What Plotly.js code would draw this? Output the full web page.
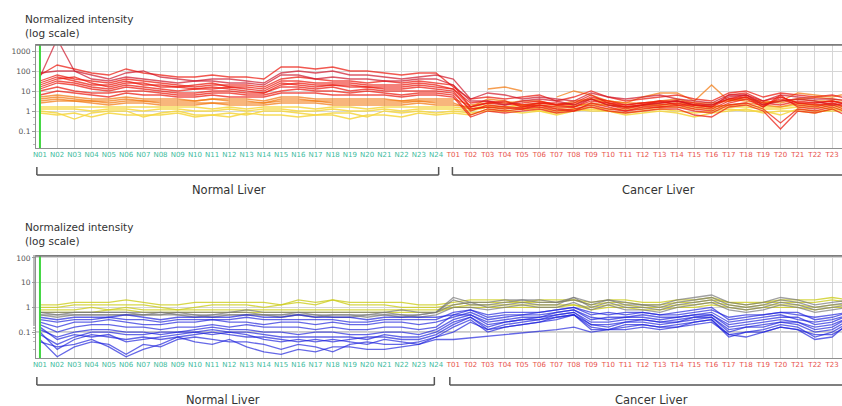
<!DOCTYPE html>
<html>
<head>
<meta charset="utf-8">
<script src="https://cdn.plot.ly/plotly-3.0.1.min.js"></script>
<style>
html,body{margin:0;padding:0;overflow:hidden;background:#fff;}
#chart{width:870px;height:406px;}
</style>
</head>
<body>
<div id="chart"></div>
<script>
// ---- categories (samples) ----
const samplesNormal = ["N01","N02","N03","N04","N05","N06","N07","N08","N09","N10","N11","N12","N13","N14","N15","N16","N17","N18","N19","N20","N21","N22","N23","N24"];
const samplesCancer = ["T01","T02","T03","T04","T05","T06","T07","T08","T09","T10","T11","T12","T13","T14","T15","T16","T17","T18","T19","T20","T21","T22","T23","T24"];
const categories = samplesNormal.concat(samplesCancer);
const yTickVals1 = [0.1, 1, 10, 100, 1000];
const yTickText1 = ["0.1", "1", "10", "100", "1000"];
const yTickVals2 = [0.1, 1, 10, 100];
const yTickText2 = ["0.1", "1", "10", "100"];
const groupLabels = ["Normal Liver", "Cancer Liver"];
const axisTitle = "Normalized intensity<br>(log scale)";

// ---- top panel: log10 normalized intensity, N01..N24 then T01..T24 ----
const topRed1 = [1.8,2.3,2.1,1.9,1.8,2.1,1.9,1.8,1.7,1.7,1.8,1.7,1.7,1.6,2.2,2.2,2.1,2.2,2.0,2.0,1.9,1.8,1.9,1.9, 1.2,0.6,0.7,0.6,0.7,0.8,0.5,0.7,1.0,0.7,0.5,0.6,0.7,0.8,0.6,0.5,0.9,1.0,0.7,0.9,0.8,0.7,0.8,0.6];
const topRed2 = [1.5,1.8,1.6,1.5,1.4,1.6,1.5,1.4,1.3,1.2,1.3,1.3,1.3,1.2,1.6,1.7,1.6,1.5,1.5,1.4,1.5,1.4,1.5,1.4, 1.3,0.2,0.4,0.3,0.4,0.5,0.3,0.4,0.8,0.4,0.3,0.4,0.5,0.5,0.3,0.2,0.8,0.9,0.5,0.7,0.4,0.4,0.5,0.3];
const topRed3 = [1.2,1.5,1.4,1.2,1.1,1.3,1.2,1.1,1.0,1.1,1.2,1.1,1.0,0.9,1.3,1.4,1.3,1.3,1.2,1.2,1.1,1.1,1.2,1.1, 1.0,0.0,0.3,0.2,0.1,0.3,0.2,0.2,0.6,0.3,0.1,0.3,0.3,0.4,0.2,0.1,0.5,0.7,0.3,0.6,0.3,0.2,0.4,0.1];
const topRed4 = [1.0,1.2,1.0,0.9,0.9,1.0,1.0,0.9,0.8,0.8,0.9,0.9,0.8,0.8,1.0,1.1,1.0,1.0,0.9,1.0,0.9,0.8,0.9,0.9, 0.8,-0.2,0.1,0.0,0.1,0.2,0.0,0.1,0.3,0.1,0.0,0.1,0.2,0.2,0.0,-0.1,0.3,0.4,0.1,-0.6,0.1,0.0,0.2,-0.1];
const topRed5 = [1.9,2.0,2.0,1.8,1.6,1.9,2.0,1.7,1.6,1.5,1.6,1.6,1.5,1.4,1.9,2.0,1.9,2.0,1.8,1.8,1.7,1.6,1.7,1.8, 1.6,0.6,0.9,0.8,0.6,0.7,0.6,0.5,0.9,0.7,0.6,0.7,0.8,0.6,0.5,0.4,0.8,0.8,0.5,0.8,0.7,0.6,0.6,0.5];
const topRed6 = [1.4,1.7,1.5,1.3,1.3,1.5,1.3,1.3,1.2,1.3,1.4,1.2,1.2,1.1,1.5,1.5,1.4,1.4,1.4,1.3,1.3,1.3,1.4,1.3, 1.1,0.4,0.5,0.4,0.3,0.4,0.4,0.3,0.7,0.5,0.3,0.4,0.4,0.5,0.4,0.3,0.6,0.8,0.4,0.3,0.5,0.4,0.5,0.3];
const topRed7 = [1.7,3.6,2.0,1.6,1.5,1.7,1.6,1.5,1.4,1.5,1.5,1.4,1.4,1.3,1.8,1.8,1.6,1.7,1.6,1.6,1.5,1.5,1.6,1.6, 1.3,0.5,0.5,0.3,0.5,0.6,0.5,0.3,0.6,0.3,0.2,0.3,0.4,0.5,0.3,0.3,0.7,0.8,0.3,0.5,0.6,0.5,0.3,0.4];
const topRed8 = [1.1,1.4,1.3,1.1,1.0,1.2,1.1,1.0,0.9,0.9,1.0,1.0,0.9,0.9,1.2,1.2,1.1,1.2,1.0,1.1,1.0,1.0,1.0,1.0, 0.9,0.1,0.2,0.1,0.2,0.3,0.1,0.0,0.4,0.2,0.0,0.2,0.2,0.3,0.1,0.0,0.4,0.6,0.2,0.8,0.2,0.1,0.3,0.0];
const topRed9 = [1.3,1.6,1.7,1.4,1.2,1.4,1.4,1.2,1.2,1.1,1.1,1.2,1.1,1.0,1.4,1.3,1.2,1.3,1.3,1.2,1.2,1.2,1.3,1.2, 1.1,0.2,0.4,0.5,0.2,0.4,0.3,0.2,0.5,0.4,0.2,0.3,0.5,0.3,0.3,0.2,0.6,0.7,0.2,0.7,0.4,0.3,0.4,0.2];
const topRed10 = [0.8,1.0,0.9,0.8,0.7,0.9,0.8,0.8,0.7,0.7,0.8,0.7,0.7,0.7,0.9,0.9,0.9,0.8,0.8,0.8,0.8,0.7,0.8,0.8, 0.7,-0.3,0.0,-0.1,0.0,0.1,-0.1,0.0,0.2,0.0,-0.1,0.0,0.1,0.1,-0.2,-0.3,0.2,0.3,0.0,-0.9,0.0,-0.1,0.1,-0.3];
const topOrange1 = [0.7,0.8,0.7,0.6,0.6,0.7,0.6,0.6,0.6,0.5,0.6,0.6,0.6,0.5,0.7,0.7,0.6,0.6,0.6,0.6,0.6,0.5,0.6,0.6, 0.6,0.3,0.4,0.4,0.5,0.5,0.3,0.4,0.6,0.5,0.4,0.4,0.5,0.6,0.4,0.4,0.5,0.6,0.5,0.4,0.6,0.5,0.5,0.4];
const topOrange2 = [0.5,0.6,0.5,0.5,0.4,0.5,0.5,0.4,0.4,0.4,0.4,0.4,0.4,0.4,0.5,0.5,0.5,0.4,0.4,0.4,0.4,0.4,0.5,0.4, 0.4,0.1,0.2,0.2,0.3,0.2,0.1,0.2,0.4,0.3,0.2,0.2,0.3,0.4,0.3,0.2,0.3,0.4,0.3,0.2,0.4,0.3,0.3,0.2];
const topOrange3 = [0.6,0.7,0.6,0.5,0.5,0.6,0.5,0.5,0.5,0.5,0.6,0.5,0.5,0.4,0.6,0.6,0.5,0.5,0.5,0.5,0.5,0.5,0.5,0.5, 0.5,null,1.1,1.2,1.0,null,0.7,1.0,0.8,0.5,0.4,0.7,0.9,0.9,0.5,1.3,0.5,0.7,0.4,0.5,0.9,0.8,0.7,0.9];
const topOrange4 = [0.4,0.5,0.5,0.4,0.3,0.4,0.4,0.3,0.3,0.3,0.4,0.3,0.3,0.3,0.4,0.4,0.4,0.3,0.3,0.3,0.3,0.3,0.4,0.3, 0.3,0.2,0.6,0.5,0.3,0.4,0.3,0.5,0.6,0.4,0.2,0.3,0.4,0.5,0.3,0.3,0.6,0.5,0.4,0.5,0.6,0.7,0.6,0.5];
const topYellow1 = [0.1,0.1,0.1,0.0,0.1,0.1,0.0,0.1,0.1,0.0,0.0,0.1,0.0,0.1,0.1,0.0,0.0,0.1,0.0,0.0,0.1,0.0,0.1,0.1, 0.1,0.0,0.2,0.1,0.2,0.1,0.0,0.1,0.2,0.1,0.1,0.1,0.2,0.2,0.1,0.1,0.2,0.2,0.1,0.1,0.2,0.2,0.1,0.1];
const topYellow2 = [0.0,-0.1,-0.4,-0.1,0.0,0.0,-0.3,-0.1,0.0,-0.2,-0.2,-0.1,-0.2,0.0,0.0,-0.1,-0.2,-0.1,-0.1,-0.3,0.0,-0.1,0.0,-0.1, 0.0,-0.1,0.0,0.0,0.1,0.0,-0.2,0.0,0.1,0.0,-0.1,0.0,0.1,0.0,-0.1,0.0,0.1,0.0,0.0,-0.2,0.1,0.0,0.0,0.0];
const topYellow3 = [0.2,0.2,0.2,0.2,0.2,0.2,0.2,0.2,0.2,0.2,0.1,0.2,0.1,0.2,0.2,0.2,0.1,0.2,0.2,0.1,0.2,0.2,0.2,0.2, 0.2,0.1,0.3,0.2,0.3,0.3,0.2,0.3,0.3,0.3,0.2,0.3,0.3,0.3,0.2,0.2,0.3,0.3,0.2,0.2,0.3,0.3,0.2,0.2];
const topYellow4 = [-0.1,-0.2,-0.1,-0.3,-0.1,-0.2,-0.2,-0.2,-0.1,-0.3,-0.2,-0.3,-0.1,-0.2,-0.2,-0.3,-0.2,-0.2,-0.4,-0.2,-0.2,-0.3,-0.1,-0.2, -0.1,-0.2,0.1,0.0,-0.1,0.0,-0.1,0.1,0.0,0.0,-0.2,-0.1,0.0,-0.1,-0.3,-0.1,0.0,0.1,-0.1,0.0,0.0,-0.1,0.1,0.0];

// ---- bottom panel: log10 normalized intensity ----
const botBlue1 = [-0.4,-0.5,-0.4,-0.4,-0.4,-0.3,-0.4,-0.5,-0.4,-0.4,-0.4,-0.4,-0.3,-0.4,-0.4,-0.3,-0.4,-0.4,-0.4,-0.5,-0.4,-0.4,-0.4,-0.4, -0.3,-0.1,-0.3,-0.2,-0.2,-0.2,-0.1,0.0,-0.3,-0.2,-0.3,-0.2,-0.3,-0.3,-0.2,-0.1,-0.4,-0.3,-0.3,-0.2,-0.3,-0.4,-0.3,-0.2];
const botBlue2 = [-0.6,-0.8,-0.6,-0.6,-0.5,-0.6,-0.7,-0.7,-0.6,-0.6,-0.5,-0.6,-0.6,-0.7,-0.6,-0.6,-0.7,-0.6,-0.7,-0.7,-0.6,-0.6,-0.7,-0.6, -0.4,-0.2,-0.5,-0.4,-0.3,-0.3,-0.2,-0.1,-0.5,-0.4,-0.4,-0.4,-0.5,-0.4,-0.3,-0.2,-0.6,-0.5,-0.4,-0.3,-0.5,-0.6,-0.5,-0.3];
const botBlue3 = [-0.9,-1.2,-1.0,-0.9,-0.9,-1.0,-1.0,-1.1,-1.0,-0.9,-0.8,-0.9,-0.9,-1.0,-1.0,-1.1,-1.0,-1.0,-1.1,-1.1,-1.0,-1.0,-1.1,-0.9, -0.5,-0.3,-0.7,-0.6,-0.5,-0.4,-0.3,-0.2,-0.6,-0.6,-0.5,-0.5,-0.6,-0.5,-0.4,-0.3,-0.8,-0.7,-0.6,-0.5,-0.6,-0.8,-0.7,-0.4];
const botBlue4 = [-1.0,-1.7,-1.3,-1.1,-1.2,-1.3,-1.2,-1.3,-1.2,-1.1,-1.0,-1.1,-1.2,-1.2,-1.3,-1.4,-1.3,-1.4,-1.3,-1.2,-1.2,-1.3,-1.3,-1.1, -0.7,-0.4,-0.9,-0.7,-0.6,-0.5,-0.4,-0.3,-0.7,-0.7,-0.6,-0.6,-0.7,-0.6,-0.5,-0.4,-1.0,-0.8,-0.7,-0.6,-0.7,-1.0,-0.9,-0.5];
const botBlue5 = [-1.3,-2.0,-1.6,-1.4,-1.5,-1.9,-1.5,-1.6,-1.3,-1.2,-1.3,-1.4,-1.4,-1.5,-1.7,-1.5,-1.6,-1.8,-1.5,-1.4,-1.5,-1.5,-1.4,-1.2, -0.8,-0.5,-1.0,-0.8,-0.7,-0.6,-0.5,-0.3,-0.8,-0.9,-0.7,-0.7,-0.8,-0.7,-0.6,-0.5,-1.2,-1.0,-0.9,-0.7,-0.8,-1.2,-1.0,-0.6];
const botBlue6 = [-0.7,-1.0,-0.8,-0.7,-0.7,-0.8,-0.8,-0.9,-0.8,-0.8,-0.7,-0.8,-0.7,-0.8,-0.8,-0.8,-0.9,-0.8,-0.9,-0.9,-0.8,-0.8,-0.9,-0.8, -0.3,-0.3,-0.6,-0.5,-0.4,-0.4,-0.2,-0.1,-0.4,-0.5,-0.4,-0.3,-0.4,-0.4,-0.3,-0.3,-0.7,-0.6,-0.5,-0.4,-0.4,-0.7,-0.6,-0.3];
const botBlue7 = [-1.1,-1.5,-1.2,-1.0,-1.0,-1.1,-1.1,-1.0,-1.0,-1.0,-0.9,-1.0,-1.0,-1.1,-1.2,-1.2,-1.2,-1.2,-1.2,-1.3,-1.1,-1.2,-1.2,-1.0, -0.6,-0.4,-0.8,-0.6,-0.5,-0.5,-0.3,-0.2,-0.7,-0.8,-0.6,-0.5,-0.6,-0.6,-0.4,-0.4,-0.9,-0.8,-0.8,-0.6,-0.6,-0.9,-0.8,-0.4];
const botBlue8 = [-0.5,-0.6,-0.5,-0.5,-0.4,-0.5,-0.5,-0.6,-0.5,-0.5,-0.5,-0.5,-0.4,-0.5,-0.5,-0.5,-0.5,-0.5,-0.6,-0.6,-0.5,-0.5,-0.5,-0.5, -0.2,-0.1,-0.4,-0.3,-0.3,-0.2,-0.1,0.0,-0.2,-0.3,-0.2,-0.2,-0.3,-0.2,-0.1,0.0,-0.5,-0.4,-0.3,-0.2,-0.2,-0.5,-0.4,-0.2];
const botBlue9 = [-1.4,-1.6,-1.5,-1.3,-1.6,-2.0,-1.7,-1.5,-1.2,-1.4,-1.5,-1.3,-1.6,-1.8,-1.9,-1.7,-1.8,-1.6,-1.6,-1.7,-1.7,-1.6,-1.5,-1.3, -1.3,null,null,null,null,null,-0.9,-0.8,-1.0,-0.9,-0.9,-0.8,-0.9,-0.8,-0.7,-0.6,-1.1,-1.0,-1.0,-0.8,-0.9,-1.1,-1.1,-0.7];
const botBlue10 = [-0.8,-1.3,-1.1,-1.2,-1.1,-1.4,-1.3,-1.2,-1.1,-1.0,-1.1,-1.0,-1.1,-1.3,-1.4,-1.3,-1.4,-1.3,-1.4,-1.5,-1.3,-1.4,-1.5,-1.2, -1.0,-0.6,-0.9,-0.8,-0.7,-0.6,-0.4,-0.3,-0.9,-0.9,-0.8,-0.7,-0.8,-0.8,-0.6,-0.5,-1.1,-1.2,-1.0,-0.8,-0.9,-1.3,-1.2,-0.6];
const botGray1 = [-0.2,-0.3,-0.2,-0.2,-0.2,-0.2,-0.3,-0.3,-0.2,-0.3,-0.3,-0.2,-0.2,-0.3,-0.3,-0.2,-0.3,-0.3,-0.3,-0.3,-0.2,-0.3,-0.3,-0.2, 0.3,0.1,0.1,0.2,0.3,0.2,0.2,0.3,0.1,0.3,0.1,0.1,0.0,0.2,0.3,0.4,0.1,0.0,0.1,0.3,0.2,0.0,0.1,0.2];
const botGray2 = [-0.3,-0.3,-0.3,-0.3,-0.3,-0.3,-0.3,-0.2,-0.3,-0.4,-0.3,-0.3,-0.3,-0.3,-0.4,-0.3,-0.4,-0.3,-0.3,-0.4,-0.3,-0.4,-0.3,-0.2, 0.1,0.2,0.0,0.1,0.2,0.1,0.1,0.4,0.0,0.2,0.0,0.0,-0.1,0.1,0.2,0.3,0.0,-0.1,0.0,0.2,0.1,-0.1,0.0,0.1];
const botGray3 = [-0.2,-0.2,-0.2,-0.2,-0.2,-0.2,-0.2,-0.2,-0.2,-0.2,-0.2,-0.2,-0.1,-0.2,-0.2,-0.2,-0.2,-0.2,-0.2,-0.2,-0.2,-0.1,-0.2,-0.2, 0.4,0.2,0.2,0.3,0.3,0.3,0.2,0.4,0.2,0.3,0.2,0.1,0.1,0.3,0.4,0.5,0.2,0.1,0.2,0.4,0.3,0.1,0.2,0.3];
const botGray4 = [-0.3,-0.4,-0.3,-0.3,-0.3,-0.3,-0.3,-0.3,-0.3,-0.3,-0.4,-0.3,-0.3,-0.3,-0.3,-0.3,-0.3,-0.4,-0.4,-0.3,-0.3,-0.3,-0.4,-0.3, 0.0,0.0,-0.1,0.0,0.1,0.0,0.0,0.2,-0.1,0.1,-0.1,-0.1,-0.2,0.0,0.1,0.2,-0.1,-0.2,-0.1,0.1,0.0,-0.2,-0.1,0.0];
const botYellow1 = [0.0,0.0,0.1,0.1,0.1,0.1,0.1,0.0,-0.1,0.0,0.1,0.1,0.1,0.0,0.1,0.2,0.1,0.3,0.1,0.1,0.1,0.0,0.0,0.0, 0.1,0.2,0.2,0.2,0.2,0.2,0.2,0.3,0.1,0.2,0.2,0.1,0.1,0.2,0.2,0.3,0.2,0.1,0.2,0.2,0.2,0.2,0.3,0.2];
const botYellow2 = [-0.1,-0.1,-0.1,0.0,-0.1,0.0,-0.1,-0.1,-0.1,-0.1,-0.1,-0.1,-0.1,-0.1,-0.1,-0.1,-0.1,-0.1,-0.1,-0.1,-0.1,-0.1,-0.1,-0.1, 0.0,0.1,0.1,0.1,0.1,0.1,0.1,0.1,0.0,0.1,0.1,0.0,0.0,0.1,0.1,0.2,0.1,0.0,0.1,0.1,0.1,0.0,0.1,0.1];
const botYellow3 = [-0.2,-0.2,-0.2,-0.2,-0.1,-0.1,-0.2,-0.2,-0.2,-0.2,-0.2,-0.2,-0.2,-0.2,-0.2,-0.2,-0.2,-0.2,-0.2,-0.2,-0.2,-0.2,-0.2,-0.2, 0.0,0.0,0.0,0.0,0.0,0.0,0.0,0.1,-0.1,0.0,0.0,-0.1,-0.1,0.0,0.0,0.1,0.0,-0.1,0.0,0.0,0.0,-0.1,0.0,0.0];
const botYellow4 = [0.1,0.1,0.2,0.2,0.2,0.3,0.2,0.1,0.1,0.2,0.2,0.2,0.2,0.2,0.1,0.3,0.2,0.3,0.2,0.2,0.2,0.2,0.1,0.1, 0.2,0.3,0.3,0.3,0.2,0.3,0.3,0.3,0.2,0.3,0.3,0.2,0.2,0.3,0.3,0.4,0.2,0.2,0.2,0.3,0.3,0.3,0.4,0.3];

// ---- styling (kept separate from data) ----
const RED = "rgba(236,24,12,0.72)", CRIMSON = "rgba(205,20,40,0.7)", ORANGE = "rgba(242,120,14,0.72)", YELLOW = "rgba(246,214,60,0.85)";
const BLUE = "rgba(28,32,220,0.68)", GRAY = "rgba(120,120,120,0.7)", OLIVE = "rgba(205,205,30,0.8)";
const NCOL = "#3dbb9c", TCOL = "#e8524a";

const topSeries = [
  [topYellow1, YELLOW],[topYellow2, YELLOW],[topYellow3, YELLOW],[topYellow4, YELLOW],
  [topOrange1, ORANGE],[topOrange2, ORANGE],[topOrange3, ORANGE],[topOrange4, ORANGE],
  [topRed1, RED],[topRed2, RED],[topRed3, RED],[topRed4, RED],[topRed5, CRIMSON],
  [topRed6, RED],[topRed7, CRIMSON],[topRed8, RED],[topRed9, RED],[topRed10, RED]
];
const botSeries = [
  [botYellow1, OLIVE],[botYellow2, OLIVE],[botYellow3, OLIVE],[botYellow4, OLIVE],
  [botGray1, GRAY],[botGray2, GRAY],[botGray3, GRAY],[botGray4, GRAY],
  [botBlue1, BLUE],[botBlue2, BLUE],[botBlue3, BLUE],[botBlue4, BLUE],[botBlue5, BLUE],
  [botBlue6, BLUE],[botBlue7, BLUE],[botBlue8, BLUE],[botBlue9, BLUE],[botBlue10, BLUE]
];
const toLinear = arr => arr.map(v => v === null ? null : Math.pow(10, v));

const traces = [];
topSeries.forEach(([d, c]) => traces.push({
  x: categories, y: toLinear(d), type: "scatter", mode: "lines",
  line: {color: c, width: 1.3}, xaxis: "x", yaxis: "y", hoverinfo: "skip", connectgaps: false
}));
botSeries.forEach(([d, c]) => traces.push({
  x: categories, y: toLinear(d), type: "scatter", mode: "lines",
  line: {color: c, width: 1.3}, xaxis: "x2", yaxis: "y2", hoverinfo: "skip", connectgaps: true
}));

const H = 406;
const py = p => 1 - p / H;   // pixel row -> paper fraction
const tickText = categories.map(c => '<span style="color:' + (c[0] === "N" ? NCOL : TCOL) + '">' + c + '</span>');

const xCommon = {
  type: "category", categoryorder: "array", categoryarray: categories,
  range: [-0.23, 47.5], tickmode: "array", tickvals: categories, ticktext: tickText,
  tickangle: 0, tickfont: {family: "DejaVu Sans", size: 7}, showgrid: true, gridcolor: "#d6d6d6", gridwidth: 1,
  showline: true, linecolor: "#8f8f8f", linewidth: 1, mirror: true, ticks: "", zeroline: false, fixedrange: true
};
const yCommon = {
  type: "log", tickmode: "array", showgrid: true, gridcolor: "#d6d6d6", gridwidth: 1,
  showline: true, linecolor: "#8f8f8f", linewidth: 1, mirror: true, ticks: "outside", ticklen: 3, tickcolor: "#999",
  tickfont: {family: "DejaVu Sans", size: 7.5, color: "#555"}, zeroline: false, fixedrange: true,
  minor: {ticks: "outside", ticklen: 2, tickcolor: "#bbb", showgrid: false}
};

const layout = {
  width: 870, height: H,
  margin: {l: 36, r: 12, t: 0, b: 0},
  paper_bgcolor: "#fff", plot_bgcolor: "#fff", showlegend: false,
  xaxis: Object.assign({}, xCommon, {domain: [0, 1], anchor: "y"}),
  yaxis: Object.assign({}, yCommon, {domain: [py(148), py(45)], range: [-1.85, 3.3], tickvals: yTickVals1, ticktext: yTickText1, anchor: "x"}),
  xaxis2: Object.assign({}, xCommon, {domain: [0, 1], anchor: "y2"}),
  yaxis2: Object.assign({}, yCommon, {domain: [py(358), py(256)], range: [-2.05, 2.08], tickvals: yTickVals2, ticktext: yTickText2, anchor: "x2"}),
  annotations: [
    {text: axisTitle, xref: "paper", yref: "paper", x: -0.016, y: py(11), xanchor: "left", yanchor: "top", align: "left", showarrow: false, font: {family: "DejaVu Sans", size: 10.5, color: "#333"}},
    {text: axisTitle, xref: "paper", yref: "paper", x: -0.016, y: py(219), xanchor: "left", yanchor: "top", align: "left", showarrow: false, font: {family: "DejaVu Sans", size: 10.5, color: "#333"}},
    {text: groupLabels[0], xref: "x", yref: "paper", x: 11.0, y: py(190), yanchor: "middle", showarrow: false, font: {family: "DejaVu Sans", size: 11.5, color: "#333"}},
    {text: groupLabels[1], xref: "x", yref: "paper", x: 35.9, y: py(190), yanchor: "middle", showarrow: false, font: {family: "DejaVu Sans", size: 11.5, color: "#333"}},
    {text: groupLabels[0], xref: "x2", yref: "paper", x: 10.6, y: py(400), yanchor: "middle", showarrow: false, font: {family: "DejaVu Sans", size: 11.5, color: "#333"}},
    {text: groupLabels[1], xref: "x2", yref: "paper", x: 35.5, y: py(400), yanchor: "middle", showarrow: false, font: {family: "DejaVu Sans", size: 11.5, color: "#333"}}
  ],
  shapes: [
    {type: "line", xref: "x", yref: "paper", x0: 0, x1: 0, y0: py(148), y1: py(45), line: {color: "#3ed63e", width: 2}, layer: "above"},
    {type: "line", xref: "x2", yref: "paper", x0: 0, x1: 0, y0: py(358), y1: py(256), line: {color: "#3ed63e", width: 2}, layer: "above"},
    {type: "line", xref: "paper", yref: "y2", x0: 0, x1: 1, y0: 0.1, y1: 0.1, line: {color: "#888", width: 1}, layer: "below"},
    {type: "line", xref: "paper", yref: "paper", x0: 0, x1: 1, y0: py(45), y1: py(45), line: {color: "#777", width: 1.5}},
    {type: "line", xref: "paper", yref: "paper", x0: 0, x1: 1, y0: py(256), y1: py(256), line: {color: "#777", width: 1.5}},
    {type: "line", xref: "x", yref: "paper", x0: -0.18, x1: 23.15, y0: py(175), y1: py(175), line: {color: "#555", width: 1.5}},
    {type: "line", xref: "x", yref: "paper", x0: -0.18, x1: -0.18, y0: py(175), y1: py(167), line: {color: "#555", width: 1.5}},
    {type: "line", xref: "x", yref: "paper", x0: 23.15, x1: 23.15, y0: py(175), y1: py(167), line: {color: "#555", width: 1.5}},
    {type: "line", xref: "x", yref: "paper", x0: 23.95, x1: 48, y0: py(175), y1: py(175), line: {color: "#555", width: 1.5}},
    {type: "line", xref: "x", yref: "paper", x0: 23.95, x1: 23.95, y0: py(175), y1: py(167), line: {color: "#555", width: 1.5}},
    {type: "line", xref: "x2", yref: "paper", x0: -0.18, x1: 22.9, y0: py(385), y1: py(385), line: {color: "#555", width: 1.5}},
    {type: "line", xref: "x2", yref: "paper", x0: -0.18, x1: -0.18, y0: py(385), y1: py(377), line: {color: "#555", width: 1.5}},
    {type: "line", xref: "x2", yref: "paper", x0: 22.9, x1: 22.9, y0: py(385), y1: py(377), line: {color: "#555", width: 1.5}},
    {type: "line", xref: "x2", yref: "paper", x0: 23.8, x1: 48, y0: py(385), y1: py(385), line: {color: "#555", width: 1.5}},
    {type: "line", xref: "x2", yref: "paper", x0: 23.8, x1: 23.8, y0: py(385), y1: py(377), line: {color: "#555", width: 1.5}}
  ]
};

Plotly.newPlot("chart", traces, layout, {displayModeBar: false, staticPlot: true});
</script>
</body>
</html>
